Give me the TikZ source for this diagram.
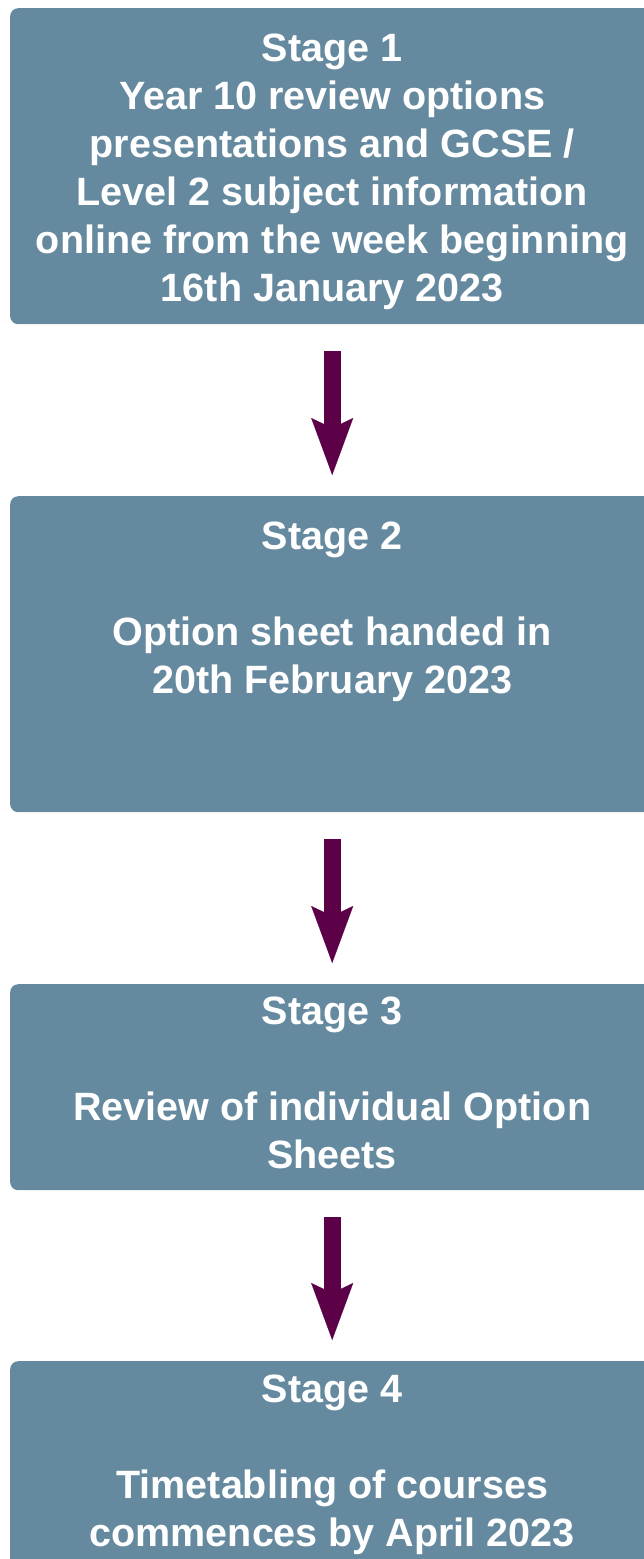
\documentclass[tikz,border=0pt]{standalone}
\usepackage{fontspec}
\setmainfont{Liberation Sans}
\usetikzlibrary{positioning,arrows.meta}
\definecolor{stageblue}{HTML}{658A9F}
\definecolor{arrowplum}{HTML}{5C0047}
\tikzset{
  stagebox/.style={fill=stageblue, rounded corners=8pt, minimum width=644pt, inner sep=0pt, anchor=north west},
  stagetext/.style={text=white, font=\bfseries\fontsize{39.5}{48}\selectfont, align=center, inner sep=0pt},
  flowarrow/.style={draw=arrowplum, line width=17pt, -{Stealth[length=57pt,width=42pt,inset=10pt,line width=0.1pt]}, shorten <=27pt, shorten >=21pt}
}
\begin{document}
\begin{tikzpicture}[x=1pt,y=1pt]
\useasboundingbox (0,0) rectangle (643,-1559);

% boxes
\node[stagebox, minimum height=316pt] (s1) at (10,-8) {};
\node[stagebox, minimum height=316pt] (s2) at (10,-496) {};
\node[stagebox, minimum height=206pt] (s3) at (10,-984) {};
\node[stagebox, minimum height=240pt] (s4) at (10,-1361) {};

% texts
\node[stagetext, below=26pt of s1.north] (t1) {Stage 1\\Year 10 review options\\presentations and GCSE /\\Level 2 subject information\\online from the week beginning\\16th January 2023};
\node[stagetext, below=25.5pt of s2.north] (t2) {Stage 2\\[48pt]Option sheet handed in\\20th February 2023};
\node[stagetext, below=12.5pt of s3.north] (t3) {Stage 3\\[48pt]Review of individual Option\\Sheets};
\node[stagetext, below=13.5pt of s4.north] (t4) {Stage 4\\[48pt]Timetabling of courses\\commences by April 2023};

% arrows
\draw[flowarrow] (s1) -- (s2);
\draw[flowarrow] (s2) -- (s3);
\draw[flowarrow] (s3) -- (s4);
\end{tikzpicture}
\end{document}
